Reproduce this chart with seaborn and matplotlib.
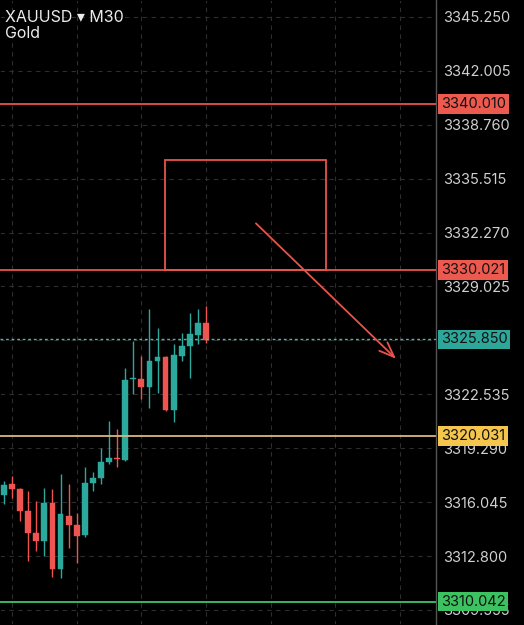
import numpy as np
import pandas as pd
import seaborn as sns
import matplotlib.pyplot as plt
from matplotlib.patches import Rectangle

# candle data (M30)
opens  = [3316.49, 3317.15, 3316.85, 3315.52, 3314.20, 3313.71, 3316.00, 3312.02, 3315.22, 3314.68,
          3314.07, 3317.21, 3317.51, 3318.47, 3318.70, 3318.60, 3323.45, 3323.48, 3323.00, 3324.56,
          3324.80, 3321.61, 3324.86, 3325.47, 3326.13, 3326.85]
highs  = [3317.33, 3317.63, 3316.90, 3316.73, 3316.12, 3316.91, 3316.85, 3317.75, 3317.15, 3315.40,
          3318.17, 3317.87, 3319.32, 3320.95, 3320.46, 3324.14, 3325.77, 3324.86, 3327.70, 3326.55,
          3324.86, 3325.59, 3326.25, 3327.40, 3327.70, 3327.88]
lows   = [3315.94, 3316.30, 3314.92, 3312.51, 3313.11, 3312.81, 3311.54, 3311.48, 3313.29, 3312.39,
          3313.95, 3316.73, 3317.15, 3318.35, 3318.17, 3318.54, 3322.57, 3322.27, 3321.73, 3322.63,
          3321.55, 3320.89, 3324.56, 3323.54, 3325.59, 3325.65]
closes = [3317.09, 3316.85, 3315.52, 3314.20, 3313.71, 3316.00, 3312.02, 3315.34, 3314.68, 3314.01,
          3317.21, 3317.51, 3318.47, 3318.72, 3318.64, 3323.42, 3323.48, 3323.00, 3324.56, 3324.80,
          3321.61, 3324.92, 3325.47, 3326.19, 3326.85, 3325.83]

# horizontal levels
levels = [3340.010, 3330.021, 3320.031, 3310.042]
level_line_colors = ['#e8544b', '#e8544b', '#d6b981', '#3cc56a']
level_box_colors = ['#ec5a4f', '#ec5a4f', '#f4c64e', '#3cc260']
last_price = 3325.850

# zone box and arrow
zone_x = [19.9, 39.85]
zone_y = [3330.021, 3336.62]
arrow_start = (30.94, 3332.94)
arrow_end = (48.76, 3324.56)

tick_values = [3345.250, 3342.005, 3338.760, 3335.515, 3332.270, 3329.025,
               3325.780, 3322.535, 3319.290, 3316.045, 3312.800, 3309.555]
tick_labels = ['3345.250', '3342.005', '3338.760', '3335.515', '3332.270', '3329.025',
               '', '3322.535', '3319.290', '3316.045', '3312.800', '3309.555']

df = pd.DataFrame({'open': opens, 'high': highs, 'low': lows, 'close': closes})
df['idx'] = np.arange(len(df))
df['up'] = df['close'] >= df['open']

sns.set_theme(style='dark', rc={'axes.facecolor': 'black', 'figure.facecolor': 'black',
                                'axes.edgecolor': 'black', 'text.color': '#e6e6e6'})
plt.rcParams['font.family'] = ['Inter', 'DejaVu Sans']

fig = plt.figure(figsize=(5.24, 6.25), dpi=100)
ax = fig.add_axes([0, 0, 436 / 524, 1])

GREEN = '#2aa99c'
RED = '#ee5550'
GRID = '#2e2e2e'

# grid
for v in [1, 9, 17, 25, 33, 41, 49]:
    ax.axvline(v, color=GRID, lw=0.8, ls=(0, (4, 4)), zorder=0)
for t in tick_values:
    ax.axhline(t, color=GRID, lw=0.8, ls=(0, (4, 4)), zorder=0)

# candles
colors = [GREEN if u else RED for u in df['up']]
ax.vlines(df['idx'], df['low'], df['high'], colors=colors, lw=1, zorder=2)
body_lo = np.minimum(df['open'], df['close'])
body_h = np.maximum(np.abs(df['close'] - df['open']), 0.05)
ax.bar(df['idx'], body_h, bottom=body_lo, width=0.72, color=colors, edgecolor=colors,
       linewidth=0.3, zorder=3)

# levels
for lv, lc in zip(levels, level_line_colors):
    ax.axhline(lv, color=lc, lw=1.3, zorder=4)
ax.axhline(last_price, color='#4fb6ab', lw=1.0, ls=(0, (2, 2)), zorder=4)

# zone and arrow
ax.add_patch(Rectangle((zone_x[0], zone_y[0]), zone_x[1] - zone_x[0], zone_y[1] - zone_y[0],
                       fill=False, ec='#e8544b', lw=1.3, zorder=4))
ax.annotate('', xy=arrow_end, xytext=arrow_start,
            arrowprops=dict(arrowstyle='->,head_length=0.9,head_width=0.35', color='#e8544b', lw=1.3),
            zorder=5)

ax.set_xlim(-0.495, 53.47)
ax.set_ylim(3308.65, 3346.27)
ax.set_xticks([])
ax.yaxis.tick_right()
ax.set_yticks(tick_values)
ax.set_yticklabels(tick_labels)
ax.tick_params(axis='y', length=0, pad=5, labelsize=10.5, labelcolor='#d0d0d0')
ax.axvline(53.47, color='#555555', lw=1.0, clip_on=False, zorder=6)

# price labels on the axis
trans = ax.get_yaxis_transform()
for lv, bc in zip(levels + [last_price], level_box_colors + ['#2ea79b']):
    ax.text(1.0 + 5 / 436, lv, f'{lv:.3f}', transform=trans, va='center', ha='left',
            fontsize=10.5, color='#111111', zorder=10, clip_on=False,
            bbox=dict(boxstyle='square,pad=0.18', fc=bc, ec='none'))

# header
ax.text(5 / 436, 1 - 18 / 625, 'XAUUSD \u25be M30', transform=ax.transAxes,
        va='center', ha='left', fontsize=11.5, color='#ececec')
ax.text(5 / 436, 1 - 34 / 625, 'Gold', transform=ax.transAxes,
        va='center', ha='left', fontsize=11.5, color='#ececec')

fig.savefig('out.png', dpi=100, facecolor='black')
